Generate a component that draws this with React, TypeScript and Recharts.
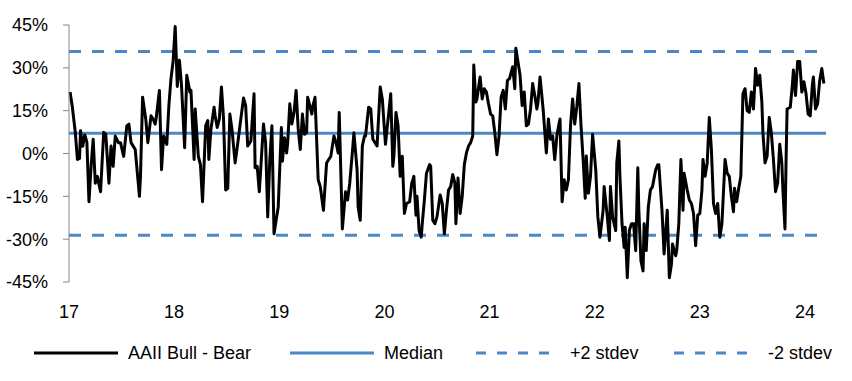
import React from 'react';
import { LineChart, Line, XAxis, YAxis, ReferenceLine } from 'recharts';

// weekly readings, x = year (2-digit + fraction), y = bull minus bear spread in %
const weeks = [
  17.01, 17.03, 17.06, 17.08, 17.10, 17.11, 17.13, 17.15, 17.17, 17.19, 17.21, 17.23, 17.25, 17.27, 17.29, 17.30,
  17.33, 17.35, 17.38, 17.40, 17.42, 17.44, 17.47, 17.49, 17.52, 17.55, 17.57, 17.59, 17.63, 17.67, 17.68, 17.70,
  17.73, 17.75, 17.78, 17.80, 17.82, 17.83, 17.86, 17.88, 17.90, 17.93, 17.95, 17.97, 17.99, 18.01, 18.03, 18.05,
  18.07, 18.10, 18.12, 18.15, 18.16, 18.19, 18.20, 18.23, 18.25, 18.27, 18.30, 18.32, 18.33, 18.35, 18.38, 18.39,
  18.41, 18.43, 18.45, 18.47, 18.49, 18.51, 18.53, 18.55, 18.58, 18.61, 18.63, 18.66, 18.68, 18.70, 18.73, 18.76,
  18.77, 18.79, 18.81, 18.83, 18.85, 18.87, 18.89, 18.91, 18.93, 18.95, 18.97, 18.99, 19.02, 19.03, 19.05, 19.07,
  19.08, 19.10, 19.12, 19.14, 19.16, 19.18, 19.20, 19.22, 19.24, 19.26, 19.27, 19.29, 19.31, 19.32, 19.34, 19.37,
  19.39, 19.42, 19.45, 19.47, 19.49, 19.52, 19.54, 19.56, 19.57, 19.60, 19.63, 19.65, 19.67, 19.70, 19.71, 19.74,
  19.75, 19.77, 19.79, 19.81, 19.82, 19.85, 19.87, 19.89, 19.93, 19.96, 19.98, 20.01, 20.06, 20.08, 20.09, 20.11,
  20.13, 20.15, 20.17, 20.19, 20.21, 20.24, 20.26, 20.28, 20.30, 20.31, 20.33, 20.35, 20.36, 20.38, 20.40, 20.43,
  20.44, 20.46, 20.48, 20.50, 20.53, 20.55, 20.57, 20.59, 20.61, 20.63, 20.65, 20.67, 20.68, 20.70, 20.72, 20.74,
  20.76, 20.78, 20.80, 20.82, 20.84, 20.85, 20.87, 20.88, 20.91, 20.93, 20.95, 20.97, 20.99, 21.01, 21.03, 21.05,
  21.07, 21.09, 21.11, 21.13, 21.15, 21.17, 21.19, 21.22, 21.24, 21.25, 21.27, 21.29, 21.31, 21.33, 21.35, 21.37,
  21.39, 21.41, 21.43, 21.45, 21.46, 21.48, 21.51, 21.54, 21.56, 21.58, 21.60, 21.62, 21.64, 21.66, 21.67, 21.69,
  21.71, 21.73, 21.75, 21.77, 21.79, 21.81, 21.83, 21.85, 21.87, 21.89, 21.91, 21.92, 21.94, 21.96, 21.98, 22.01,
  22.03, 22.05, 22.08, 22.09, 22.12, 22.14, 22.15, 22.17, 22.20, 22.21, 22.23, 22.24, 22.26, 22.28, 22.29, 22.31,
  22.33, 22.35, 22.37, 22.39, 22.41, 22.42, 22.44, 22.46, 22.47, 22.49, 22.51, 22.53, 22.55, 22.58, 22.60, 22.61,
  22.64, 22.66, 22.69, 22.71, 22.73, 22.74, 22.77, 22.78, 22.80, 22.82, 22.84, 22.85, 22.88, 22.90, 22.92, 22.94,
  22.96, 22.98, 23.00, 23.02, 23.03, 23.05, 23.07, 23.09, 23.11, 23.13, 23.15, 23.17, 23.19, 23.21, 23.24, 23.26,
  23.28, 23.30, 23.32, 23.33, 23.35, 23.37, 23.39, 23.41, 23.43, 23.45, 23.47, 23.49, 23.51, 23.53, 23.55, 23.57,
  23.59, 23.60, 23.62, 23.64, 23.66, 23.68, 23.70, 23.72, 23.74, 23.76, 23.78, 23.79, 23.81, 23.82, 23.83, 23.86,
  23.88, 23.89, 23.91, 23.93, 23.95, 23.97, 23.99, 24.01, 24.03, 24.05, 24.07, 24.08, 24.10, 24.12, 24.14, 24.16,
  24.18,
];

const bullBear = [
  21.5, 16.8, 7.4, -2.1, -1.7, 8, 2.5, 6.5, 4, -16.9, -4.5, 5, -10.4, -8, -11.6, -13.4,
  7.4, 6.7, -10.4, 2.6, -4.5, 6.1, 3.8, 3.8, -1, 9.7, 10.3, 3.8, 1.4, -15, -8, 19.7,
  12.1, 3.8, 13.2, 12.1, 10.3, 12.6, 22.1, -5.7, 6.1, 3.2, 16.8, 26.2, 32.2, 44.5, 23.5, 32.7,
  23.9, 2, 27.4, 21.5, 22.1, -2.1, 15.6, -1, -3.9, -16.9, 9.7, 11.5, -2.1, 8.5, 16.2, 13.2,
  9.1, 12.1, 23.3, 12.1, -12.8, -12.2, 13.8, 8.5, -3.3, 5, 10.9, 19.4, 16.8, 2.6, 4.4, 20.9,
  -5, -4.5, -13.4, -1.5, 10.3, 3.8, -22.2, -2.1, 9.7, -28.1, -23.4, -18.7, 9.1, -2.7, 5.5, 0.2,
  3.8, 17.4, 10.3, 14.4, 22.1, 8.5, 1.4, 13.8, 6.7, 7.3, 19.7, 16.8, 13.8, 16.8, 19.7, -9.2,
  -11.6, -19.9, -3.3, -2.1, -1, 6.1, 3.8, 0.2, 14.4, -26.4, -13.4, -16.3, -10.4, 2.6, 7.3, -5.7,
  -18.7, -23.4, 2.6, 6.1, 6.1, 16.2, 15.6, 5, 2.6, 23.3, 19.1, 3.2, 20.9, -4.5, -1, 14.4,
  9.7, -8, -1, -21, -17.5, -16.9, -10.4, -8, -21.6, -15, -27, -29.3, -24.6, -16.3, -6.9, -3.9,
  -4.5, -23.4, -24.6, -22.2, -14.5, -17.5, -28.1, -19.9, -12.8, -11.6, -7.4, -10.4, -24.6, -8.6, -21, -15,
  -3.9, 0.2, 2.6, 3.8, 6.1, 31, 18, 19.1, 26.8, 19.1, 22.7, 21.5, 17.4, 13.8, 13.2, 7.3,
  -0.4, 6.1, 19.7, 22.1, 15.6, 25.6, 26.2, 30.4, 22.7, 36.9, 32.2, 27.4, 16.8, 21.5, 9.7, 10.3,
  15.6, 24.5, 20.3, 15.6, 17.7, 26.8, 15.4, 0.2, 12.1, 5, 6.1, -2.1, 6.1, 10.3, 12.1, -16.9,
  -9.2, -12.8, -9.2, 9.7, 19.1, 10.3, 16.5, 24.5, 9.7, -2.1, -15.7, -0.9, -13.9, -8, 6.7, -5.7,
  -22.2, -29.3, -19.9, -11.6, -22.2, -30.5, -11.6, -22.2, -27, -3.3, 4.4, -8, -24.6, -32.9, -25.8, -43.5,
  -26.9, -24.6, -24.6, -34, -5, -19.9, -37.6, -41.1, -24.6, -34, -18.7, -12.8, -11.6, -5.7, -3.9, -3.9,
  -19.9, -35.2, -19.9, -43.5, -38.8, -31.7, -35.8, -34, -24.6, -2.1, -19.9, -6.9, -12.8, -16.3, -17.5, -21,
  -32.3, -21.6, -21, -12.8, -2.1, -8, -3.3, 12.6, 1.4, -17.5, -21, -17.5, -29.3, -24.6, -2.1, -6.9,
  -8, -15, -20.4, -12.2, -16.9, -12.2, -8, 20.9, 22.7, 15, 14.4, 21.5, 15.6, 29.8, 23.9, 27.4,
  18, 7.3, -3.3, -0.9, 12.6, 7.3, -2.1, -13.4, -10.4, 3.2, -3.3, -12.8, -26.4, -2.7, 15.6, 16.2,
  23.9, 29.2, 20.3, 32.2, 32.2, 21.5, 25.1, 21, 13.8, 13.2, 23.9, 26.8, 15.6, 17.4, 25.6, 29.8,
  24.5,
];

const median = 7.1;
const plus2Stdev = 35.7;
const minus2Stdev = -28.6;

const yTicks = [-45, -30, -15, 0, 15, 30, 45];
const xTicks = [17, 18, 19, 20, 21, 22, 23, 24];

const data = weeks.map((w, i) => ({ week: w, spread: bullBear[i] }));

const BLUE = '#4a88c7';
const FONT = '"Liberation Sans", Arial, sans-serif';

const LegendItem = ({ dashed, color, label, left }: { dashed?: boolean; color: string; label: string; left: number }) => (
  <div style={{ position: 'absolute', left, top: 0, display: 'flex', alignItems: 'center', height: 26 }}>
    <svg width={84} height={6} style={{ display: 'block' }}>
      <line x1={0} y1={3} x2={84} y2={3} stroke={color} strokeWidth={3} strokeDasharray={dashed ? '10 11' : undefined} />
    </svg>
    <span style={{ marginLeft: 10, fontSize: 18, fontFamily: FONT, color: '#000', whiteSpace: 'nowrap' }}>{label}</span>
  </div>
);

export default function App() {
  return (
    <div style={{ position: 'absolute', left: 0, top: 0, width: 852, height: 381, background: '#fff' }}>
      <LineChart width={852} height={381} data={data} margin={{ top: 25, right: 26, bottom: 59, left: 0 }}>
        <XAxis
          dataKey="week"
          type="number"
          domain={[17, 24.2]}
          ticks={xTicks}
          axisLine={false}
          tickLine={false}
          tickMargin={17}
          height={40}
          tick={{ fill: '#000', fontSize: 18, fontFamily: FONT }}
        />
        <YAxis
          domain={[-45, 45]}
          ticks={yTicks}
          width={69}
          stroke="#868686"
          tickSize={6}
          tickMargin={15}
          tickFormatter={(v: number) => `${v}%`}
          tick={{ fill: '#000', fontSize: 18, fontFamily: FONT }}
        />
        <ReferenceLine y={plus2Stdev} stroke={BLUE} strokeWidth={3} strokeDasharray="12 11" />
        <ReferenceLine y={minus2Stdev} stroke={BLUE} strokeWidth={3} strokeDasharray="12 11" />
        <ReferenceLine y={median} stroke={BLUE} strokeWidth={3} />
        <Line
          type="linear"
          dataKey="spread"
          stroke="#000"
          strokeWidth={3}
          strokeLinejoin="round"
          dot={false}
          isAnimationActive={false}
        />
      </LineChart>
      <div style={{ position: 'absolute', left: 0, top: 340, width: 852, height: 26 }}>
        <LegendItem color="#000" label="AAII Bull - Bear" left={34} />
        <LegendItem color={BLUE} label="Median" left={290} />
        <LegendItem color={BLUE} dashed label="+2 stdev" left={476} />
        <LegendItem color={BLUE} dashed label="-2 stdev" left={674} />
      </div>
    </div>
  );
}
